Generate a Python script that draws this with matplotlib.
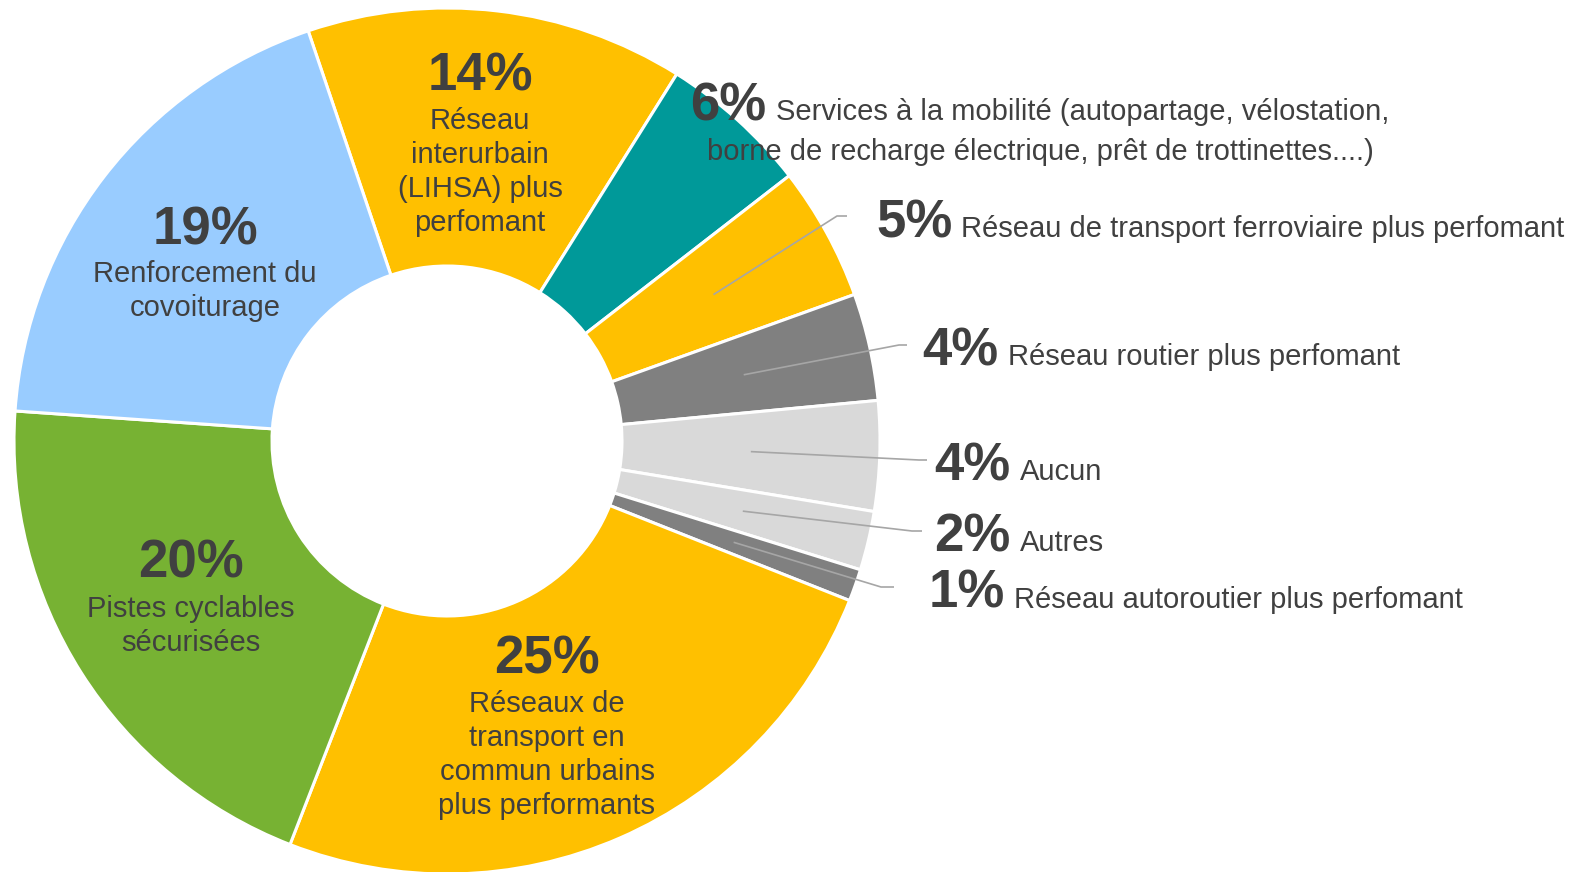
import numpy as np
import matplotlib.pyplot as plt

W, H = 1579, 872

# slices, clockwise starting from the "Réseau interurbain" slice
values = [14.1, 5.6, 5.0, 4.0, 4.1, 2.2, 1.2, 24.9, 20.2, 18.7]
pct_labels = ["14%", "6%", "5%", "4%", "4%", "2%", "1%", "25%", "20%", "19%"]
names = [
    "Réseau\ninterurbain\n(LIHSA) plus\nperfomant",
    "Services à la mobilité (autopartage, vélostation,\nborne de recharge électrique, prêt de trottinettes....)",
    "Réseau de transport ferroviaire plus perfomant",
    "Réseau routier plus perfomant",
    "Aucun",
    "Autres",
    "Réseau autoroutier plus perfomant",
    "Réseaux de\ntransport en\ncommun urbains\nplus performants",
    "Pistes cyclables\nsécurisées",
    "Renforcement du\ncovoiturage",
]
colors = ["#FFC000", "#009999", "#FFC000", "#808080", "#D9D9D9",
          "#D9D9D9", "#808080", "#FFC000", "#77B233", "#99CCFF"]

TXT = "#404040"
FONT = ["Liberation Sans", "DejaVu Sans"]
plt.rcParams["font.family"] = FONT


def Y(y):
    # image y (top-down) -> data y (bottom-up)
    return H - y


fig = plt.figure(figsize=(W / 100, H / 100), dpi=100)
ax = fig.add_axes([0, 0, 1, 1])

cx, cy, r_out, r_in = 447, Y(441), 433, 175
wedges, _ = ax.pie(values, colors=colors, radius=r_out, center=(cx, cy),
                   startangle=108.7, counterclock=False,
                   wedgeprops=dict(width=r_out - r_in, edgecolor="white",
                                   linewidth=2.2))

ax.set_xlim(0, W)
ax.set_ylim(0, H)
ax.set_aspect("equal")
ax.axis("off")

# labels inside the ring: index -> (x, y of percent, y of text block)
inside = {
    0: (480, 76, 172),
    9: (205, 230, 291),
    8: (191, 564, 626),
    7: (547, 659, 755),
}
for i, (x, yp, yb) in inside.items():
    ax.text(x, Y(yp), pct_labels[i], ha="center", va="center",
            fontsize=38, fontweight="bold", color=TXT)
    ax.text(x, Y(yb), names[i], ha="center", va="center",
            fontsize=21, color=TXT, linespacing=1.26)

# labels outside: index -> (x percent, x text, baseline, elbow, end of leader)
outside = {
    1: (690, 776, 120, None, None),
    2: (876, 961, 237, (837, 216), (847, 216)),
    3: (922, 1008, 365, (899, 345), (907, 345)),
    4: (934, 1020, 480, (919, 460), (927, 460)),
    5: (934, 1020, 551, (912, 531), (922, 531)),
    6: (929, 1014, 608, (881, 587), (894, 587)),
}
for i, (xp, xt, base, elbow, end) in outside.items():
    ax.text(xp, Y(base), pct_labels[i], ha="left", va="baseline",
            fontsize=38, fontweight="bold", color=TXT)
    lines = names[i].split("\n")
    ax.text(xt, Y(base), lines[0], ha="left", va="baseline",
            fontsize=21, color=TXT)
    if len(lines) > 1:
        ax.text(1040, Y(base + 40), lines[1], ha="center", va="baseline",
                fontsize=21, color=TXT)
    if elbow is not None:
        w = wedges[i]
        mid = np.deg2rad((w.theta1 + w.theta2) / 2)
        r_mid = (r_out + r_in) / 2
        x0, y0 = cx + r_mid * np.cos(mid), cy + r_mid * np.sin(mid)
        ax.plot([x0, elbow[0], end[0]], [y0, Y(elbow[1]), Y(end[1])],
                color="#A6A6A6", lw=1.2, solid_capstyle="butt")

fig.savefig("out.png", dpi=100, facecolor="white")
